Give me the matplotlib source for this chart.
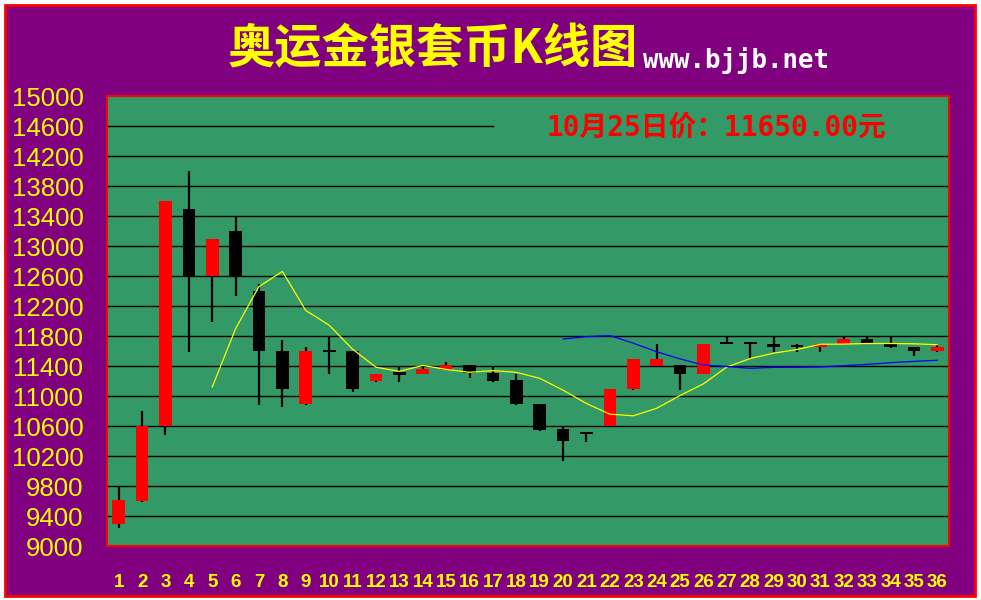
import matplotlib
matplotlib.use("Agg")
import matplotlib.pyplot as plt
from matplotlib.patches import Rectangle

# ---- data ----
days = list(range(1, 37))
opens = [9300, 9600, 10600, 13500, 12600, 13200, 12400, 11600, 10900, 11620,
         11600, 11200, 11320, 11300, 11350, 11410, 11310, 11210, 10900, 10560,
         10520, 10600, 11100, 11400, 11410, 11300, 11720, 11720, 11700, 11680,
         11660, 11700, 11760, 11700, 11660, 11600]
highs = [9790, 10800, 13600, 14000, 13100, 13400, 12490, 11750, 11650, 11790,
         11600, 11300, 11390, 11390, 11450, 11410, 11390, 11300, 10900, 10590,
         10520, 11100, 11500, 11690, 11410, 11700, 11800, 11720, 11800, 11690,
         11700, 11800, 11800, 11800, 11660, 11690]
lows = [9245, 9590, 10480, 11590, 11990, 12340, 10880, 10850, 10880, 11290,
        11050, 11190, 11190, 11290, 11350, 11240, 11190, 10880, 10540, 10140,
        10390, 10600, 11080, 11400, 11080, 11290, 11690, 11500, 11590, 11590,
        11590, 11700, 11700, 11640, 11540, 11590]
closes = [9610, 10600, 13600, 12600, 13100, 12600, 11600, 11100, 11600, 11590,
          11100, 11300, 11280, 11360, 11410, 11310, 11200, 10900, 10550, 10400,
          10490, 11100, 11500, 11500, 11300, 11700, 11690, 11690, 11660, 11650,
          11700, 11760, 11700, 11660, 11600, 11650]

ma5_days = list(range(5, 37))
ma5 = [11120, 11900, 12460, 12660, 12140, 11944, 11624, 11384, 11328, 11408,
       11354, 11316, 11338, 11316, 11236, 11078, 10900, 10758, 10736, 10836,
       11006, 11162, 11386, 11500, 11570, 11620, 11690, 11692, 11700, 11700,
       11696, 11684]
ma20_days = list(range(20, 37))
ma20 = [11760, 11791, 11806, 11705, 11590, 11495, 11413, 11393, 11369, 11382,
        11382, 11387, 11404, 11422, 11444, 11462, 11476]

y_ticks = list(range(9000, 15001, 400))
title = "奥运金银套币K线图"
url = "www.bjjb.net"
price_note = "10月25日价：11650.00元"

# ---- colours ----
PURPLE = "#800080"
GREEN = "#339966"
YELLOW = "#FFFF00"
RED = "#FF0000"

W, H = 981, 600
fig = plt.figure(figsize=(W / 100, H / 100), dpi=100, facecolor="white")

# purple frame with red border
fig.patches.append(Rectangle((5 / W, 4 / H), 970 / W, 591 / H, transform=fig.transFigure,
                             facecolor=PURPLE, edgecolor=RED, linewidth=2.0, zorder=-10))

ax = fig.add_axes([107 / W, (H - 546) / H, 842 / W, 450 / H])
ax.set_zorder(1)
ax.set_facecolor(GREEN)
ax.set_xlim(0.5, 36.5)
ax.set_ylim(9000, 15000)

# grid lines
x_break = (493 - 107) / 842
for v in y_ticks[1:-1]:
    ax.axhline(v, xmin=0, xmax=(x_break if v == 14600 else 1), color="black",
               linewidth=1.0, zorder=1)

# candlesticks
bw = 0.54
for d, o, h, l, c in zip(days, opens, highs, lows, closes):
    col = RED if c > o else "black"
    ax.vlines(d, l, h, color="black", linewidth=1.6, zorder=2)
    lo, hi = min(o, c), max(o, c)
    ax.add_patch(Rectangle((d - bw / 2, lo), bw, max(hi - lo, 25), facecolor=col,
                           edgecolor="none", zorder=3))

ax.plot(ma5_days, ma5, color=YELLOW, linewidth=0.9, zorder=4)
ax.plot(ma20_days, ma20, color="#0000FF", linewidth=0.9, zorder=4)

# ticks
ax.set_yticks(y_ticks)
ax.set_yticklabels([str(v) for v in y_ticks], fontsize=18.5, color=YELLOW,
                   family=["Liberation Sans", "DejaVu Sans"])
ax.set_xticks(days)
ax.set_xticklabels([str(d) for d in days], fontsize=13.5, color=YELLOW, fontweight="bold",
                   family=["Liberation Sans", "DejaVu Sans"])
ax.tick_params(axis="y", length=0, pad=17)
ax.tick_params(axis="x", length=0, pad=20)
for s in ax.spines.values():
    s.set_color(RED)
    s.set_linewidth(1.5)

# texts
fig.text(433 / W, 1 - 49 / H, title, color=YELLOW, fontsize=34, fontweight="bold",
         family=["Noto Sans CJK SC", "DejaVu Sans"], ha="center", va="center")
fig.text(643 / W, 1 - 60 / H, url, color="white", fontsize=18.5, fontweight="bold",
         family=["DejaVu Sans Mono", "DejaVu Sans"], ha="left", va="center")
fig.text(716 / W, 1 - 128 / H, price_note, color=RED, fontsize=20, fontweight="bold",
         family=["DejaVu Sans Mono", "Noto Sans CJK SC"], ha="center", va="center")

fig.savefig("out.png", dpi=100, facecolor="white")
